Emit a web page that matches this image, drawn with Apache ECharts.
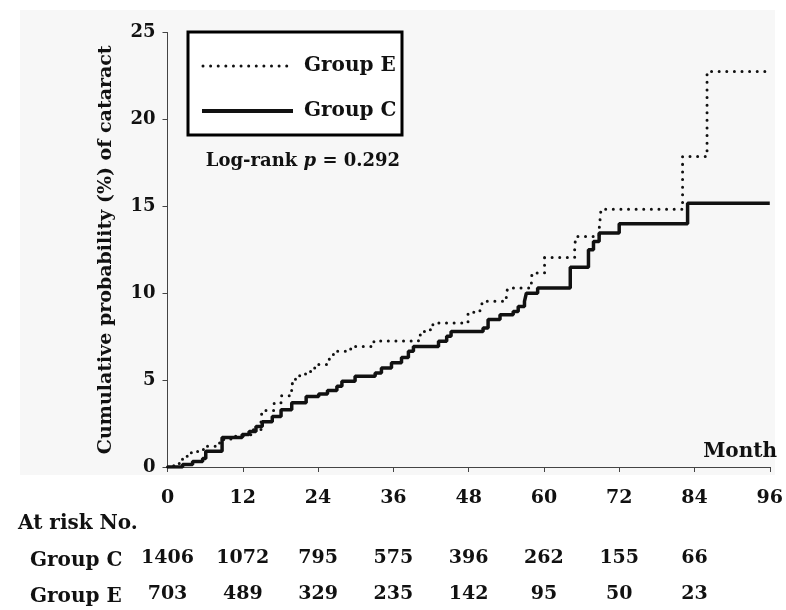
<!DOCTYPE html>
<html>
<head>
<meta charset="utf-8">
<script src="https://cdn.jsdelivr.net/npm/echarts@6/dist/echarts.min.js"></script>
<style>
html,body{margin:0;padding:0;background:#fff;}
#chart{width:786px;height:610px;}
</style>
</head>
<body>
<div id="chart"></div>
<script>
// ---- data ----
const xTicks = [0, 12, 24, 36, 48, 60, 72, 84, 96];
const yTicks = [0, 5, 10, 15, 20, 25];
const atRiskC = [1406, 1072, 795, 575, 396, 262, 155, 66];
const atRiskE = [703, 489, 329, 235, 142, 95, 50, 23];

const groupCTime = [0, 2.4, 4.0, 5.6, 6.1, 8.7, 11.9, 13.0, 14.1, 15.1, 16.7, 18.1, 19.8, 22.1, 24.1, 25.5, 27.0, 27.8, 29.9, 33.1, 34.1, 35.7, 37.3, 38.4, 39.2, 43.2, 44.5, 45.2, 50.3, 51.1, 53.0, 55.1, 55.9, 56.9, 57.2, 59.0, 64.2, 67.1, 67.9, 68.8, 72.0, 82.9, 96];
const groupCProb = [0, 0.14, 0.32, 0.49, 0.91, 1.70, 1.87, 2.04, 2.33, 2.60, 2.90, 3.30, 3.70, 4.05, 4.20, 4.40, 4.64, 4.93, 5.22, 5.41, 5.70, 6.00, 6.30, 6.66, 6.94, 7.23, 7.52, 7.80, 8.00, 8.48, 8.76, 8.95, 9.24, 9.53, 10.00, 10.30, 11.50, 12.50, 12.98, 13.46, 13.99, 15.18, 15.18];

const groupETime = [0, 1.0, 2.2, 3.0, 3.8, 4.8, 5.9, 8.3, 10.1, 11.9, 13.5, 14.9, 15.1, 17.0, 18.2, 19.4, 19.9, 20.4, 22.0, 23.1, 24.1, 25.7, 26.0, 26.5, 29.2, 32.9, 40.0, 40.8, 41.9, 42.3, 47.9, 49.8, 50.1, 50.7, 54.0, 54.3, 58.0, 58.1, 60.1, 64.9, 65.1, 68.8, 69.1, 82.1, 86.0, 95.5];
const groupEProb = [0, 0.2, 0.45, 0.62, 0.82, 1.0, 1.2, 1.58, 1.77, 1.87, 2.15, 2.8, 3.25, 3.7, 4.1, 4.4, 5.0, 5.25, 5.5, 5.7, 5.9, 6.08, 6.47, 6.66, 6.94, 7.25, 7.6, 7.8, 8.1, 8.28, 8.9, 9.05, 9.4, 9.53, 10.05, 10.3, 10.68, 11.16, 12.05, 12.7, 13.26, 13.65, 14.83, 17.86, 22.75, 22.75];

const seriesNames = ['Group E', 'Group C'];
const yTitle = 'Cumulative probability (%) of cataract';
const xTitle = 'Month';
const pText = 'p';
const pValue = '0.292';

// ---- chart ----
const FONT = '"DejaVu Serif", serif';
const chart = echarts.init(document.getElementById('chart'), null, {renderer: 'canvas'});

const zip = (a, b) => a.map((v, i) => [v, b[i]]);
const tickStep = xTicks[1] - xTicks[0];
const xMin = xTicks[0], xMax = xTicks[xTicks.length - 1];

function xAxisBase(extra) {
  return Object.assign({
    type: 'value', min: xMin, max: xMax, interval: tickStep, gridIndex: 0,
    position: 'bottom',
    splitLine: {show: false},
    axisLine: {show: false}, axisTick: {show: false}
  }, extra);
}

const option = {
  backgroundColor: '#ffffff',
  animation: false,
  grid: {left: 167.5, right: 15, top: 32.5, bottom: 143, containLabel: false},
  xAxis: [
    xAxisBase({
      axisLine: {show: true, onZero: false, lineStyle: {color: '#444', width: 1}},
      axisTick: {show: true, inside: false, length: 5, lineStyle: {color: '#444', width: 1}},
      axisLabel: {margin: 22, fontFamily: FONT, fontWeight: 'bold', fontSize: 19, color: '#111'}
    }),
    xAxisBase({
      offset: 76,
      axisLabel: {margin: 6, fontFamily: FONT, fontWeight: 'bold', fontSize: 19, color: '#111',
        formatter: v => { const i = Math.round(v / tickStep); return atRiskC[i] !== undefined ? String(atRiskC[i]) : ''; }}
    }),
    xAxisBase({
      offset: 112,
      axisLabel: {margin: 6, fontFamily: FONT, fontWeight: 'bold', fontSize: 19, color: '#111',
        formatter: v => { const i = Math.round(v / tickStep); return atRiskE[i] !== undefined ? String(atRiskE[i]) : ''; }}
    })
  ],
  yAxis: {
    type: 'value', min: yTicks[0], max: yTicks[yTicks.length - 1], interval: yTicks[1] - yTicks[0],
    splitLine: {show: false},
    axisLine: {show: true, lineStyle: {color: '#444', width: 1}},
    axisTick: {show: true, length: 5, lineStyle: {color: '#444', width: 1}},
    axisLabel: {margin: 12, fontFamily: FONT, fontWeight: 'bold', fontSize: 18, color: '#111'},
    name: yTitle, nameLocation: 'middle', nameGap: 52, nameRotate: 90,
    nameTextStyle: {fontFamily: FONT, fontWeight: 'bold', fontSize: 19, color: '#111'}
  },
  series: [
    {
      name: seriesNames[0], type: 'line', step: 'end', showSymbol: false, symbol: 'none',
      data: zip(groupETime, groupEProb), z: 3,
      lineStyle: {color: '#111', width: 3, type: [0.01, 7.6], cap: 'round'}
    },
    {
      name: seriesNames[1], type: 'line', step: 'end', showSymbol: false, symbol: 'none',
      data: zip(groupCTime, groupCProb), z: 2,
      lineStyle: {color: '#111', width: 3.5, type: 'solid'}
    }
  ],
  graphic: [
    {type: 'rect', z: -10, silent: true, shape: {x: 20, y: 10, width: 755, height: 465}, style: {fill: '#f7f7f7'}},
    // legend box
    {type: 'rect', z: 10, shape: {x: 188, y: 32, width: 214, height: 103}, style: {fill: '#fff', stroke: '#000', lineWidth: 3}},
    {type: 'line', z: 11, shape: {x1: 203, y1: 66, x2: 289, y2: 66}, style: {stroke: '#111', lineWidth: 3, lineDash: [0.01, 7.6], lineCap: 'round'}},
    {type: 'text', z: 11, style: {x: 304, y: 66, text: seriesNames[0], fontFamily: FONT, fontWeight: 'bold', fontSize: 20, fill: '#111', verticalAlign: 'middle'}},
    {type: 'line', z: 11, shape: {x1: 202, y1: 111, x2: 293, y2: 111}, style: {stroke: '#111', lineWidth: 4}},
    {type: 'text', z: 11, style: {x: 304, y: 111, text: seriesNames[1], fontFamily: FONT, fontWeight: 'bold', fontSize: 20, fill: '#111', verticalAlign: 'middle'}},
    {type: 'text', z: 11, style: {x: 303, y: 161, text: '{a|Log-rank }{b|' + pText + '}{a| = ' + pValue + '}', align: 'center', verticalAlign: 'middle',
      rich: {a: {fontFamily: FONT, fontWeight: 'bold', fontSize: 18, fill: '#111'}, b: {fontFamily: FONT, fontWeight: 'bold', fontStyle: 'italic', fontSize: 18, fill: '#111'}}}},
    {type: 'text', z: 11, style: {x: 777, y: 452, text: xTitle, fontFamily: FONT, fontWeight: 'bold', fontSize: 20, fill: '#111', align: 'right', verticalAlign: 'middle'}},
    // at-risk row labels
    {type: 'text', z: 11, style: {x: 18, y: 524, text: 'At risk No.', fontFamily: FONT, fontWeight: 'bold', fontSize: 20, fill: '#111', verticalAlign: 'middle'}},
    {type: 'text', z: 11, style: {x: 30, y: 561, text: 'Group C', fontFamily: FONT, fontWeight: 'bold', fontSize: 20, fill: '#111', verticalAlign: 'middle'}},
    {type: 'text', z: 11, style: {x: 30, y: 597, text: 'Group E', fontFamily: FONT, fontWeight: 'bold', fontSize: 20, fill: '#111', verticalAlign: 'middle'}}
  ]
};
chart.setOption(option);
</script>
</body>
</html>
